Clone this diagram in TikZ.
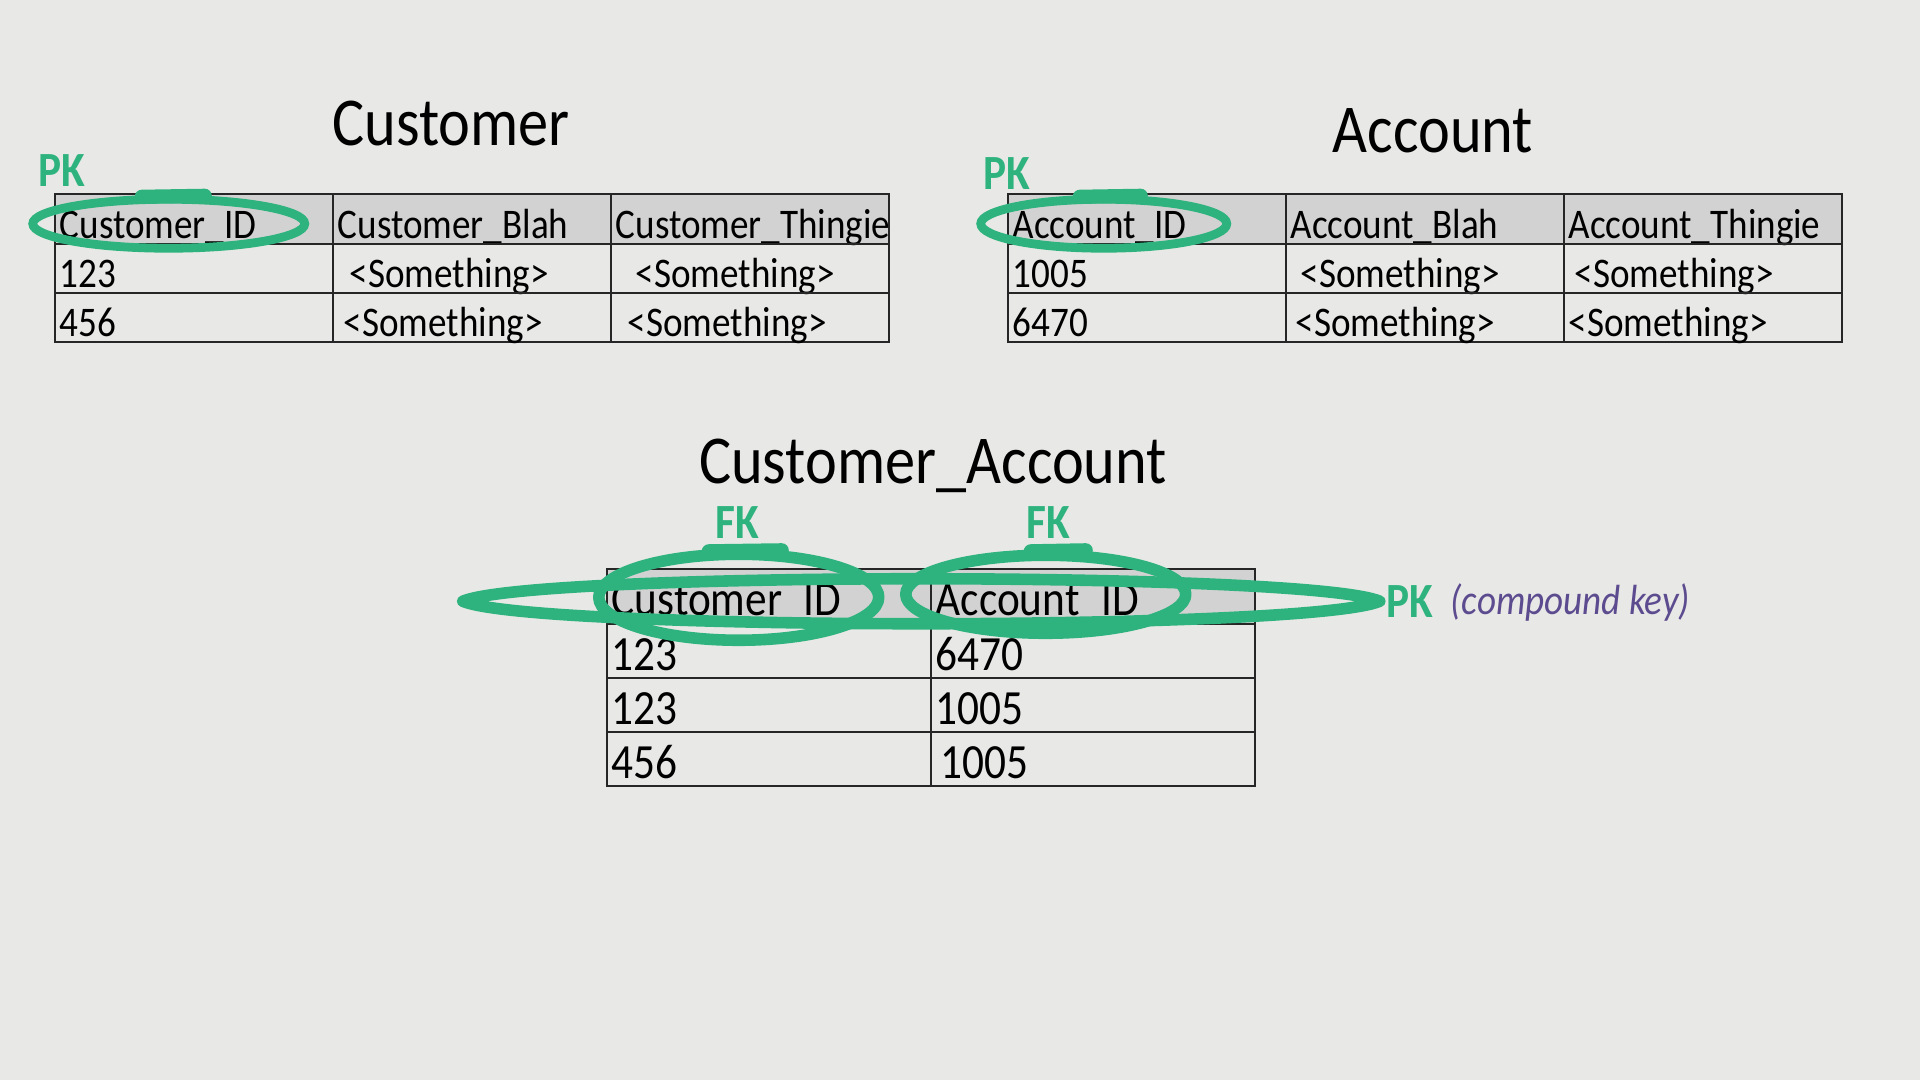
\documentclass[tikz,border=0pt]{standalone}
\usepackage{fontspec}
\setmainfont[FakeStretch=0.88]{Carlito}
\usepackage{tikz}
\usetikzlibrary{matrix,calc,positioning}
\definecolor{paper}{HTML}{E8E8E6}
\definecolor{headgray}{HTML}{D2D2D2}
\definecolor{pkgreen}{HTML}{2EB37E}
\definecolor{keypurple}{HTML}{5C4B8F}
\hyphenpenalty=10000

\begin{document}
\begin{tikzpicture}[
  tbl/.style={matrix of nodes,inner sep=0pt,column sep=-0.6pt,row sep=-0.6pt,
    nodes={draw=black!85,line width=0.6pt,inner xsep=0.05cm,inner ysep=0pt,
      text height=0.44cm,text depth=0.05cm,align=left,
      font=\fontsize{12}{14}\selectfont},
    row 1/.style={nodes={fill=headgray}}},
  tbltitle/.style={anchor=base,font=\fontsize{19.5}{22}\selectfont},
  keylbl/.style={text=pkgreen,inner sep=0pt,font=\fontsize{14}{16}\selectfont\bfseries},
  keynote/.style={text=keypurple,inner sep=0pt,font=\fontsize{12}{14}\selectfont\itshape},
  ring/.style={draw=pkgreen,line width=2.5pt},
  fatring/.style={draw=pkgreen,line width=3.3pt,line join=round},
  ringtip/.style={draw=pkgreen,line width=4pt,line cap=round},
]
  \path[use as bounding box,fill=paper] (0,0) rectangle (19.2,10.8);

  % tables
  \matrix[tbl,nodes={text width=2.68cm,minimum height=0.49cm},
    row 1/.append style={nodes={minimum height=0.50cm}},anchor=north west] (cust) at (0.53,8.88) {
    Customer\_ID & Customer\_Blah & Customer\_Thingie \\
    123 & \hspace*{0.12cm}<Something> & \hspace*{0.2cm}<Something> \\
    456 & \hspace*{0.06cm}<Something> & \hspace*{0.12cm}<Something> \\
  };
  \matrix[tbl,nodes={text width=2.68cm,minimum height=0.49cm},
    row 1/.append style={nodes={minimum height=0.50cm}},anchor=north west] (acct) at (10.06,8.88) {
    Account\_ID & Account\_Blah & Account\_Thingie \\
    1005 & \hspace*{0.1cm}<Something> & \hspace*{0.06cm}<Something> \\
    6470 & \hspace*{0.05cm}<Something> & <Something> \\
  };
  \matrix[tbl,nodes={text width=3.14cm,minimum height=0.54cm,font=\fontsize{14}{16}\selectfont},
    row 1/.append style={nodes={minimum height=0.55cm}},anchor=north west] (ca) at (6.05,5.13) {
    Customer\_ID & Account\_ID \\
    123 & 6470 \\
    123 & 1005 \\
    456 & \hspace*{0.05cm}1005 \\
  };

  \node[tbltitle] (custtitle) at (4.51,9.34) {Customer};
  \node[tbltitle] (accttitle) at (14.33,9.27) {Account};
  \node[tbltitle] (catitle) at (9.33,5.96) {Customer\_Account};

  % keys
  \draw[ring] ($(cust-1-1.center)+(-0.25,-0.05)$) ellipse [x radius=1.36cm,y radius=0.245cm];
  \draw[ringtip] ($(cust-1-1.center)+(-0.52,0.22)$) -- ++(0.63,0.01);
  \draw[ring] ($(acct-1-1.center)+(-0.43,-0.05)$) ellipse [x radius=1.23cm,y radius=0.245cm];
  \draw[ringtip] ($(acct-1-1.center)+(-0.67,0.22)$) -- ++(0.61,0.01);
  \node[keylbl,anchor=base] (pkcust) at (0.62,8.93) {PK};
  \node[keylbl,anchor=base] (pkacct) at (10.07,8.90) {PK};

  \coordinate (lensL) at ($(ca-1-1.west)+(-1.43,-0.05)$);
  \coordinate (lensR) at ($(ca-1-2.east)+(1.24,-0.05)$);
  \draw[fatring] (lensL) .. controls ($(lensL)+(0.7,0.3)$) and ($(lensR)+(-0.7,0.3)$) .. (lensR)
    .. controls ($(lensR)+(-0.7,-0.3)$) and ($(lensL)+(0.7,-0.3)$) .. (lensL) -- cycle;
  \draw[fatring] ($(ca-1-1.center)+(-0.30,-0.01)$) ellipse [x radius=1.40cm,y radius=0.43cm];
  \draw[ringtip] ($(ca-1-1.center)+(-0.60,0.45)$) -- ++(0.73,0.01);
  \draw[fatring] ($(ca-1-2.center)+(-0.47,0.02)$) ellipse [x radius=1.40cm,y radius=0.39cm];
  \draw[ringtip] ($(ca-1-2.center)+(-0.62,0.45)$) -- ++(0.55,0.01);
  \node[keylbl,anchor=base] (fkcust) at (7.37,5.41) {FK};
  \node[keylbl,anchor=base] (fkacct) at (10.48,5.41) {FK};

  \node[keylbl,right=0.06cm of lensR] (pkca) {PK};
  \node[keynote,anchor=base west] (cknote) at ($(pkca.base east)+(0.16,0.03)$) {(compound key)};
\end{tikzpicture}
\end{document}
